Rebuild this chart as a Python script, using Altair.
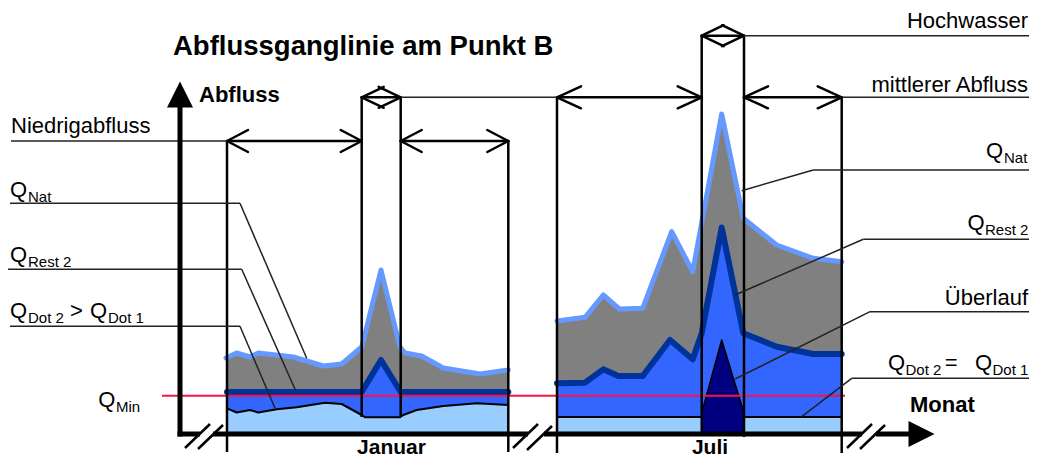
import altair as alt
import pandas as pd

# ---------------- data (diagram units) ----------------
BASE = 432

# January (Niedrigabfluss / Hochwasser)
jan_nat_x = [226, 236.7, 250, 258.3, 293.3, 323.3, 341.7, 361.7, 381, 400, 405, 421.7, 443.3, 480, 508.3]
jan_nat_y = [358, 353, 357, 353, 357, 366, 364, 347, 270, 347, 353, 356, 368, 374, 370]
jan_rest_x = [227, 361.7, 381, 400.7, 508.3]
jan_rest_y = [392, 392, 360, 392, 392]
jan_dot_x = [227, 236.7, 250, 258.3, 276.7, 296.7, 325, 341.7, 361.7, 365, 400, 403.3, 416.7, 443.3, 476.7, 508.3]
jan_dot_y = [408.3, 412.5, 410, 412.5, 409.3, 407.3, 402.7, 404, 415, 417.3, 417.3, 415, 410, 406, 403.3, 405]

# July (mittlerer Abfluss / Hochwasser)
jul_nat_x = [557, 585, 603.3, 619.3, 642.7, 671.7, 692.7, 721.7, 743.3, 776.7, 813.3, 841.7]
jul_nat_y = [321, 317.3, 295, 309, 308.3, 231.7, 271.7, 114, 218.3, 245, 258.3, 261.7]
jul_rest_x = [557, 585, 603.3, 618.3, 642.7, 670, 692.7, 701.7, 721.7, 743.3, 776.7, 813.3, 841.7]
jul_rest_y = [383.3, 382.7, 369.3, 376, 376, 340, 359.3, 333.3, 227.5, 333.3, 346.7, 354, 354]
jul_dot_x = [557, 841.7]
jul_dot_y = [417, 417]
ueber_x = [701.7, 721.7, 744]
ueber_y = [413, 340, 413]

# Q_Min
qmin_x = [162, 845]
qmin_y = [395.7, 395.7]

# period boundaries
vline_x = [227, 361.7, 400.7, 508.3, 557, 701.7, 744, 841.7]
vline_top = [141, 97, 97, 141, 97, 35.7, 35.7, 97]
vline_bot = [452, 417, 417, 452, 453, 432, 437, 453]

# double arrows
arrow_x1 = [227, 400.7, 361.7, 557, 744, 701.7]
arrow_x2 = [361.7, 508.3, 400.7, 701.7, 841.7, 744]
arrow_y = [141, 141, 97.3, 97.3, 97.3, 35.7]
head_dx = [21, 21, 22, 24, 24, 22]
head_dy = [11, 11, 10.5, 11, 11, 10.5]

# leader lines (polylines)
leaders = [
    ([11, 227], [141, 141]),
    ([400.7, 557], [97.3, 97.3]),
    ([841.7, 1029], [97.3, 97.3]),
    ([744, 1029], [35.7, 35.7]),
    ([10, 240, 306.7], [203.3, 203.3, 358.3]),
    ([8, 241.7, 295.7], [269.3, 269.3, 390.7]),
    ([10, 240, 275], [326.3, 326.3, 408.3]),
    ([741.7, 813.3, 1029], [190.7, 170, 170]),
    ([735, 863.3, 1029], [295, 239.3, 239.3]),
    ([735, 870, 1029], [379, 311.7, 311.7]),
    ([801.7, 851.7, 1029], [416.7, 378.3, 378.3]),
]

# axes
yaxis_x = [180]
yaxis_y1 = [107]
yaxis_y2 = [436.5]
xaxis_x1 = [177.5, 213, 544, 876]
xaxis_x2 = [200, 528, 862, 910]
xaxis_y = 434
slash_x1 = [185, 198, 513, 527, 847, 860]
slash_y1 = [448, 449, 448, 450, 448, 449]
slash_x2 = [210, 223, 538, 552, 872, 885]
slash_y2 = [424, 425, 424, 426, 424, 425]

# texts
main_texts = ["Niedrigabfluss", "Q", "Q", "Q", ">", "Q", "Q", "Q", "Q", "Q", "=", "Q"]
main_tx = [11, 10, 10, 10, 70, 90, 98.3, 986, 967.5, 888, 944.7, 975]
main_ty = [133, 196.7, 261.7, 318.3, 318.3, 318.3, 406.7, 158.3, 230, 370, 370, 370]
right_texts = ["Hochwasser", "mittlerer Abfluss", "Überlauf"]
right_tx = [1028, 1028, 1028]
right_ty = [28, 91.7, 305]
sub_texts = ["Nat", "Rest 2", "Dot 2", "Dot 1", "Min", "Nat", "Rest 2", "Dot 2", "Dot 1"]
sub_tx = [28, 28, 28, 108, 116, 1004, 985, 905.5, 992.5]
sub_ty = [201.7, 266.7, 323.3, 323.3, 411.7, 163.3, 235, 375, 375]
bold_texts = ["Abfluss", "Monat"]
bold_tx = [199, 910]
bold_ty = [102, 411.7]
month_texts = ["Januar", "Juli"]
month_tx = [391.5, 710]
month_ty = [453.5, 453.5]
title_text = "Abflussganglinie am Punkt B"
title_x, title_y = 173, 55

# ---------------- helpers ----------------
XS = alt.Scale(domain=[8, 1029], nice=False, zero=False)
YS = alt.Scale(domain=[8, 458], nice=False, zero=False, reverse=True)
FONT = "Liberation Sans"


def X(f="x"):
    return alt.X(f + ":Q", scale=XS, axis=None)


def Y(f="y"):
    return alt.Y(f + ":Q", scale=YS, axis=None, stack=None)


def series(pairs):
    rows = []
    for i, (xs, ys) in enumerate(pairs):
        for a, b in zip(xs, ys):
            rows.append({"x": a, "y": b, "b": BASE, "seg": i})
    return pd.DataFrame(rows)


def segs(pairs):
    rows = []
    for xs, ys in pairs:
        for i in range(len(xs) - 1):
            rows.append({"x": xs[i], "y": ys[i], "x2": xs[i + 1], "y2": ys[i + 1]})
    return pd.DataFrame(rows)


def area(df, color):
    return alt.Chart(df).mark_area(color=color, opacity=1, interpolate="linear").encode(
        x=X(), y=Y(), y2=alt.Y2("b:Q"), detail="seg:N")


def line(df, color, w):
    return alt.Chart(df).mark_line(color=color, strokeWidth=w, strokeJoin="round",
                                   strokeCap="round", interpolate="linear").encode(
        x=X(), y=Y(), detail="seg:N")


def rules(df, color, w, cap="butt"):
    return alt.Chart(df).mark_rule(color=color, strokeWidth=w, strokeCap=cap).encode(
        x=X(), y=Y(), x2=alt.X2("x2:Q"), y2=alt.Y2("y2:Q"))


def texts(t, xs, ys, size, weight="normal", align="left"):
    df = pd.DataFrame({"t": t, "x": xs, "y": ys})
    return alt.Chart(df).mark_text(font=FONT, fontSize=size, fontWeight=weight, align=align,
                                   baseline="alphabetic", color="black").encode(
        x=X(), y=Y(), text="t:N")


# ---------------- build ----------------
layers = []
layers.append(area(series([(jan_nat_x, jan_nat_y), (jul_nat_x, jul_nat_y)]), "#808080"))
layers.append(area(series([(jan_rest_x, jan_rest_y), (jul_rest_x, jul_rest_y)]), "#3366ff"))
layers.append(area(series([(jan_dot_x, jan_dot_y), (jul_dot_x, jul_dot_y)]), "#99ccff"))
layers.append(line(series([(jan_dot_x, jan_dot_y)]), "black", 2))
layers.append(rules(segs([([557, 701.7], [417, 417]), ([744, 841.7], [417, 417])]), "black", 2))
layers.append(area(series([(ueber_x, ueber_y)]), "#000080"))
layers.append(line(series([(ueber_x, ueber_y)]), "black", 1.5))
layers.append(line(series([(jan_rest_x, jan_rest_y), (jul_rest_x, jul_rest_y)]), "#003399", 6))
layers.append(line(series([(jan_nat_x, jan_nat_y), (jul_nat_x, jul_nat_y)]), "#6699ff", 5))
layers.append(rules(segs([(qmin_x, qmin_y)]), "#ff1040", 2))

# vertical period lines
vl = pd.DataFrame({"x": vline_x, "y": vline_top, "x2": vline_x, "y2": vline_bot})
layers.append(rules(vl, "black", 2.5))

# double arrows
arr_pairs = []
for x1, x2, y, dx, dy in zip(arrow_x1, arrow_x2, arrow_y, head_dx, head_dy):
    arr_pairs.append(([x1, x2], [y, y]))
    arr_pairs.append(([x1 + dx, x1, x1 + dx], [y - dy, y, y + dy]))
    arr_pairs.append(([x2 - dx, x2, x2 - dx], [y - dy, y, y + dy]))
layers.append(rules(segs(arr_pairs), "black", 2.5, cap="round"))

# leaders
layers.append(rules(segs(leaders), "#222222", 1.5))

# axes
layers.append(rules(pd.DataFrame({"x": yaxis_x, "y": yaxis_y1, "x2": yaxis_x, "y2": yaxis_y2}), "black", 5))
layers.append(rules(pd.DataFrame({"x": xaxis_x1, "y": [xaxis_y] * 4, "x2": xaxis_x2, "y2": [xaxis_y] * 4}), "black", 5))
layers.append(rules(pd.DataFrame({"x": slash_x1, "y": slash_y1, "x2": slash_x2, "y2": slash_y2}), "black", 2.5))
tri_up = pd.DataFrame({"x": [180], "y": [94.5]})
tri_right = pd.DataFrame({"x": [921.5], "y": [434]})
layers.append(alt.Chart(tri_up).mark_point(shape="M0,-1L1,1L-1,1Z", filled=True, color="black",
                                            opacity=1, size=676, strokeWidth=0).encode(x=X(), y=Y()))
layers.append(alt.Chart(tri_right).mark_point(shape="M1,0L-1,-1L-1,1Z", filled=True, color="black",
                                               opacity=1, size=676, strokeWidth=0).encode(x=X(), y=Y()))

# texts
layers.append(texts(main_texts, main_tx, main_ty, 22))
layers.append(texts(right_texts, right_tx, right_ty, 22, align="right"))
layers.append(texts(sub_texts, sub_tx, sub_ty, 15))
layers.append(texts(bold_texts, bold_tx, bold_ty, 22, weight="bold"))
layers.append(texts(month_texts, month_tx, month_ty, 21, weight="bold", align="center"))
layers.append(texts([title_text], [title_x], [title_y], 27.5, weight="bold"))

chart = alt.layer(*layers).properties(
    width=1021, height=450, padding=0,
    autosize=alt.AutoSizeParams(type="none"),
).configure_view(strokeWidth=0)

chart.save("out.html", embed_options={"renderer": "svg", "actions": False})
